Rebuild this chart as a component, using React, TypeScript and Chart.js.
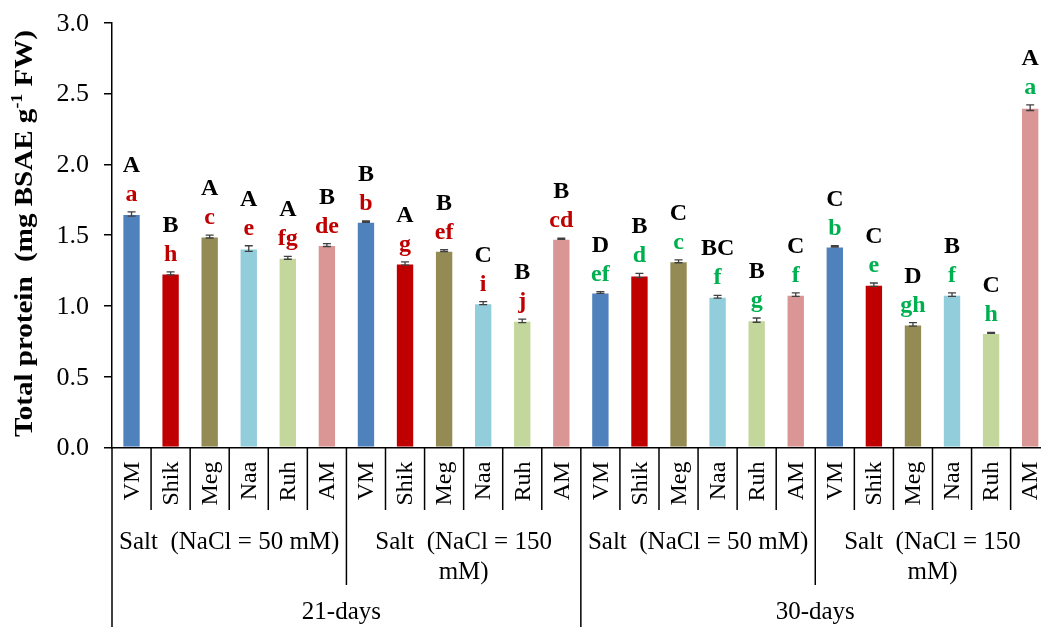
import { useEffect, useRef } from "react";
import { Chart, registerables } from "chart.js";

Chart.register(...registerables);

const cultivars = ["VM", "Shik", "Meg", "Naa", "Ruh", "AM"];
const categories = [...cultivars, ...cultivars, ...cultivars, ...cultivars];
const values = [
  1.65, 1.23, 1.49, 1.405, 1.34, 1.43,
  1.595, 1.30, 1.39, 1.02, 0.895, 1.475,
  1.095, 1.215, 1.315, 1.065, 0.90, 1.08,
  1.42, 1.15, 0.87, 1.08, 0.81, 2.40,
];
const errors = [
  0.015, 0.01, 0.01, 0.02, 0.01, 0.01,
  0.005, 0.012, 0.007, 0.01, 0.012, 0.004,
  0.006, 0.015, 0.01, 0.01, 0.015, 0.012,
  0.005, 0.012, 0.012, 0.012, 0.004, 0.02,
];
const upperLetters = [
  "A", "B", "A", "A", "A", "B",
  "B", "A", "B", "C", "B", "B",
  "D", "B", "C", "BC", "B", "C",
  "C", "C", "D", "B", "C", "A",
];
const lowerLetters = [
  "a", "h", "c", "e", "fg", "de",
  "b", "g", "ef", "i", "j", "cd",
  "ef", "d", "c", "f", "g", "f",
  "b", "e", "gh", "f", "h", "a",
];
const groupLabels = [
  ["Salt  (NaCl = 50 mM)"],
  ["Salt  (NaCl = 150", "mM)"],
  ["Salt  (NaCl = 50 mM)"],
  ["Salt  (NaCl = 150", "mM)"],
];
const periodLabels = ["21-days", "30-days"];
const barColors = ["#4F81BD", "#C00000", "#948A54", "#92CDDC", "#C3D69B", "#D99694"];
const yTicks = [0, 0.5, 1.0, 1.5, 2.0, 2.5, 3.0];

const SERIF = "'Times New Roman', 'Liberation Serif', serif";

const overlayPlugin = {
  id: "overlay",
  afterDatasetsDraw(chart: any) {
    const { ctx } = chart;
    const x = chart.scales.x;
    const y = chart.scales.y;
    ctx.save();
    ctx.strokeStyle = "#404040";
    ctx.lineWidth = 1.3;
    values.forEach((v, i) => {
      const cx = x.getPixelForValue(i);
      const t = y.getPixelForValue(v + errors[i]);
      const b = y.getPixelForValue(v - errors[i]);
      ctx.beginPath();
      ctx.moveTo(cx, t);
      ctx.lineTo(cx, b);
      ctx.moveTo(cx - 4, t);
      ctx.lineTo(cx + 4, t);
      ctx.moveTo(cx - 4, b);
      ctx.lineTo(cx + 4, b);
      ctx.stroke();
    });
    ctx.font = `bold 24px ${SERIF}`;
    ctx.textAlign = "center";
    ctx.textBaseline = "alphabetic";
    values.forEach((v, i) => {
      const cx = x.getPixelForValue(i);
      const t = y.getPixelForValue(v + errors[i]);
      const lowY = t - 11;
      ctx.fillStyle = i < 12 ? "#C00000" : "#00B050";
      ctx.fillText(lowerLetters[i], cx, lowY);
      ctx.fillStyle = "#000";
      ctx.fillText(upperLetters[i], cx, lowY - 29);
    });
    ctx.restore();
  },
  afterDraw(chart: any) {
    const { ctx, chartArea } = chart;
    const x = chart.scales.x;
    const H = chart.height;
    const half = (x.getPixelForValue(1) - x.getPixelForValue(0)) / 2;
    const start = x.getPixelForValue(0) - half;
    const base = chartArea.bottom;
    ctx.save();
    ctx.strokeStyle = "#000";
    ctx.lineWidth = 1.5;
    for (let b = 0; b <= categories.length; b++) {
      const bx = start + b * 2 * half;
      const end = b % 12 === 0 ? H : b % 6 === 0 ? 585 : 510;
      ctx.beginPath();
      ctx.moveTo(bx, base);
      ctx.lineTo(bx, end);
      ctx.stroke();
    }
    ctx.fillStyle = "#000";
    ctx.font = `24px ${SERIF}`;
    categories.forEach((c, i) => {
      const cx = x.getPixelForValue(i);
      ctx.save();
      ctx.translate(cx + 1, base + 14);
      ctx.rotate(-Math.PI / 2);
      ctx.textAlign = "right";
      ctx.textBaseline = "middle";
      ctx.fillText(c, 0, 0);
      ctx.restore();
    });
    ctx.font = `25px ${SERIF}`;
    ctx.textAlign = "center";
    ctx.textBaseline = "middle";
    groupLabels.forEach((lines, g) => {
      const gx = start + (g * 6 + 3) * 2 * half;
      lines.forEach((ln, k) => {
        ctx.fillText(ln, gx, 542 + k * 30);
      });
    });
    periodLabels.forEach((p, k) => {
      const px = start + (k * 12 + 6) * 2 * half - (k === 0 ? 5 : 0);
      ctx.fillText(p, px, 612);
    });
    // y tick labels
    const y = chart.scales.y;
    ctx.font = `26px ${SERIF}`;
    ctx.textAlign = "right";
    y.ticks.forEach((t: any) => {
      ctx.fillText(Number(t.value).toFixed(1), 89, y.getPixelForValue(t.value) + 1);
    });
    // y title, uniform font, fitted to span 437 -> 30
    ctx.save();
    ctx.translate(25, 437);
    ctx.rotate(-Math.PI / 2);
    ctx.textBaseline = "middle";
    ctx.textAlign = "left";
    const parts: [string, boolean][] = [
      ["Total protein  (mg BSAE g", false],
      ["-1", true],
      [" FW)", false],
    ];
    const mainFont = `bold 26px ${SERIF}`;
    const supFont = `bold 16px ${SERIF}`;
    let total = 0;
    const widths = parts.map(([t, sup]) => {
      ctx.font = sup ? supFont : mainFont;
      const w = ctx.measureText(t).width;
      total += w;
      return w;
    });
    ctx.scale((437 - 30) / total, 1);
    let pos = 0;
    parts.forEach(([t, sup], k) => {
      ctx.font = sup ? supFont : mainFont;
      ctx.fillText(t, pos, sup ? -7 : 0);
      pos += widths[k];
    });
    ctx.restore();
    ctx.restore();
  },
};

export default function App() {
  const ref = useRef<HTMLCanvasElement | null>(null);
  useEffect(() => {
    if (!ref.current) return;
    const chart = new Chart(ref.current, {
      type: "bar",
      data: {
        labels: categories,
        datasets: [
          {
            data: values,
            backgroundColor: categories.map((_, i) => barColors[i % 6]),
            borderColor: "rgba(255,255,255,0.45)",
            borderWidth: 1,
            barPercentage: 0.47,
            categoryPercentage: 1,
          },
        ],
      },
      options: {
        animation: false,
        responsive: false,
        devicePixelRatio: 1,
        layout: { padding: { left: 0, right: 10.3, top: 22.7, bottom: 0 } },
        plugins: { legend: { display: false }, tooltip: { enabled: false } },
        scales: {
          x: {
            type: "category",
            ticks: { display: false },
            grid: { display: false },
            border: { display: true, color: "#000", width: 1.5 },
            afterFit: (s: any) => {
              s.height = 179.4;
            },
          },
          y: {
            min: 0,
            max: 3,
            afterBuildTicks: (s: any) => {
              s.ticks = yTicks.map((v) => ({ value: v }));
            },
            ticks: { display: false },
            grid: {
              drawOnChartArea: false,
              drawTicks: true,
              tickLength: 8,
              color: "#000",
              lineWidth: 1.5,
            },
            border: { display: true, color: "#000", width: 1.5 },
            afterFit: (s: any) => {
              s.width = 112;
            },
          },
        },
      },
      plugins: [overlayPlugin],
    });
    return () => chart.destroy();
  }, []);
  return (
    <div
      style={{
        position: "fixed",
        left: 0,
        top: 0,
        width: 1041,
        height: 627,
        overflow: "hidden",
        background: "#fff",
      }}
    >
      <canvas ref={ref} width={1060} height={627} style={{ width: 1060, height: 627, display: "block" }} />
    </div>
  );
}
